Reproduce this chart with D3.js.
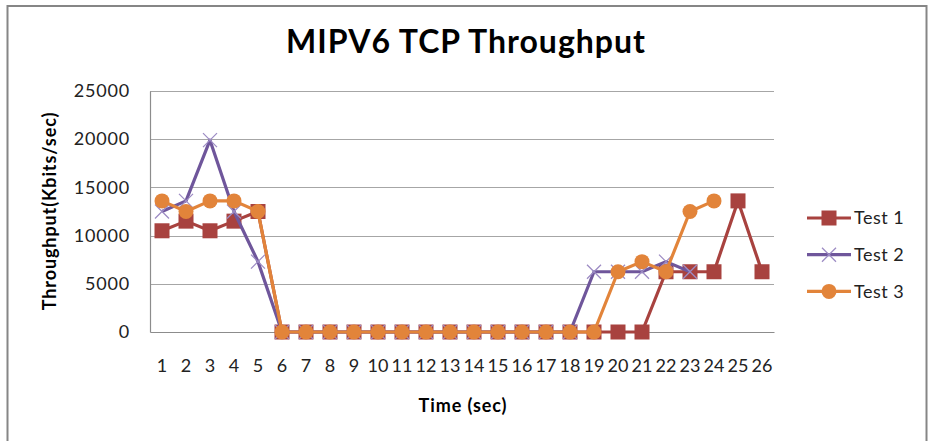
<!DOCTYPE html>
<html>
<head>
<meta charset="utf-8">
<script src="https://cdn.jsdelivr.net/npm/d3@7"></script>
<style>
  html, body { margin: 0; padding: 0; background: #fff; }
  svg { display: block; font-family: Lato, "Open Sans", sans-serif; }
</style>
</head>
<body>
<div id="chart"></div>
<script>
// MIPV6 TCP throughput, three test runs
const times = d3.range(1, 27).map(String);
const yTicks = [0, 5000, 10000, 15000, 20000, 25000];
const seriesNames = ["Test 1", "Test 2", "Test 3"];
const test1 = [10500, 11500, 10500, 11500, 12500, 0, 0, 0, 0, 0, 0, 0, 0, 0, 0, 0, 0, 0, 0, 0, 0, 6250, 6250, 6250, 13600, 6250];
const test2 = [12500, 13600, 19900, 12500, 7300, 0, 0, 0, 0, 0, 0, 0, 0, 0, 0, 0, 0, 0, 6250, 6250, 6250, 7300, 6250];
const test3 = [13600, 12500, 13600, 13600, 12500, 0, 0, 0, 0, 0, 0, 0, 0, 0, 0, 0, 0, 0, 0, 6250, 7300, 6250, 12500, 13600];

(function () {
  const W = 928, H = 441;
  const margin = { top: 91, left: 150, right: 154, bottom: 109 };
  const width = W - margin.left - margin.right;
  const height = H - margin.top - margin.bottom;

  const colors = ["#A8423F", "#6F569B", "#E2843A"];
  const data = [test1, test2, test3];

  const svg = d3.select("#chart").append("svg")
    .attr("width", W).attr("height", H);

  // chart frame
  svg.append("rect")
    .attr("x", 7.5).attr("y", 6).attr("width", 919).attr("height", 450)
    .attr("fill", "#fff").attr("stroke", "#868686").attr("stroke-width", 2);

  svg.append("text")
    .attr("x", 466).attr("y", 53)
    .attr("text-anchor", "middle")
    .attr("font-size", "32px").attr("font-weight", "bold")
    .attr("letter-spacing", "1px")
    .attr("fill", "#000")
    .text("MIPV6 TCP Throughput");

  const g = svg.append("g").attr("transform", `translate(${margin.left},${margin.top})`);

  const x = d3.scaleBand().domain(times).range([0, width]);
  const y = d3.scaleLinear().domain([0, 25000]).range([height, 0]);

  // gridlines
  g.selectAll(".grid")
    .data(yTicks.filter(d => d > 0))
    .join("line")
    .attr("x1", 0).attr("x2", width)
    .attr("y1", d => Math.round(y(d)) + 0.5).attr("y2", d => Math.round(y(d)) + 0.5)
    .attr("stroke", "#A6A6A6").attr("stroke-width", 1.2);

  // axes
  const yAxis = g.append("g")
    .call(d3.axisLeft(y).tickValues(yTicks).tickFormat(d3.format("d")).tickSize(0).tickPadding(20));
  yAxis.select(".domain").attr("stroke", "#8C8C8C").attr("stroke-width", 1.2);
  yAxis.selectAll("text").attr("font-size", "18px").attr("fill", "#222")
    .attr("letter-spacing", "0.8px")
    .attr("font-family", "Lato, sans-serif");

  const xAxis = g.append("g")
    .attr("transform", `translate(0,${height})`)
    .call(d3.axisBottom(x).tickSize(0).tickPadding(27));
  xAxis.select(".domain").attr("stroke", "#8C8C8C").attr("stroke-width", 1.2);
  xAxis.selectAll("text").attr("font-size", "18px").attr("fill", "#222")
    .attr("font-family", "Lato, sans-serif");

  svg.append("text")
    .attr("x", 463).attr("y", 412)
    .attr("text-anchor", "middle")
    .attr("font-size", "18px").attr("font-weight", "bold")
    .attr("letter-spacing", "0.9px")
    .text("Time (sec)");

  svg.append("text")
    .attr("transform", "translate(56,211) rotate(-90)")
    .attr("text-anchor", "middle")
    .attr("font-size", "18px").attr("font-weight", "bold")
    .attr("letter-spacing", "0.9px")
    .text("Throughput(Kbits/sec)");

  const cx = (d, i) => x(times[i]) + x.bandwidth() / 2;
  const line = d3.line().x(cx).y(d => y(d));

  function drawMarker(sel, k, color) {
    if (k === 0) {
      sel.append("rect").attr("x", -7.5).attr("y", -7.5).attr("width", 15).attr("height", 15)
        .attr("fill", color);
    } else if (k === 1) {
      sel.append("path").attr("d", "M-7,-7L7,7M-7,7L7,-7")
        .attr("stroke", "#9D8CC4").attr("stroke-width", 1.3).attr("fill", "none");
    } else {
      sel.append("circle").attr("r", 7.5).attr("fill", color);
    }
  }

  data.forEach((vals, k) => {
    const sg = g.append("g");
    sg.append("path")
      .datum(vals)
      .attr("d", line)
      .attr("fill", "none")
      .attr("stroke", colors[k])
      .attr("stroke-width", 3.2)
      .attr("stroke-linejoin", "round");
    sg.selectAll(".m")
      .data(vals)
      .join("g")
      .attr("transform", (d, i) => `translate(${cx(d, i)},${y(d)})`)
      .each(function () { drawMarker(d3.select(this), k, colors[k]); });
  });

  // legend
  const leg = svg.append("g").attr("transform", "translate(807,218)");
  seriesNames.forEach((name, k) => {
    const row = leg.append("g").attr("transform", `translate(0,${k * 36.7})`);
    row.append("line").attr("x1", 0).attr("x2", 44).attr("y1", 0).attr("y2", 0)
      .attr("stroke", colors[k]).attr("stroke-width", 3.2);
    const m = row.append("g").attr("transform", "translate(22,0)");
    drawMarker(m, k, colors[k]);
    row.append("text").attr("x", 47).attr("y", 0).attr("dy", "0.36em")
      .attr("font-size", "18px").attr("fill", "#222")
      .attr("letter-spacing", "0.5px")
      .text(name);
  });
})();
</script>
</body>
</html>
